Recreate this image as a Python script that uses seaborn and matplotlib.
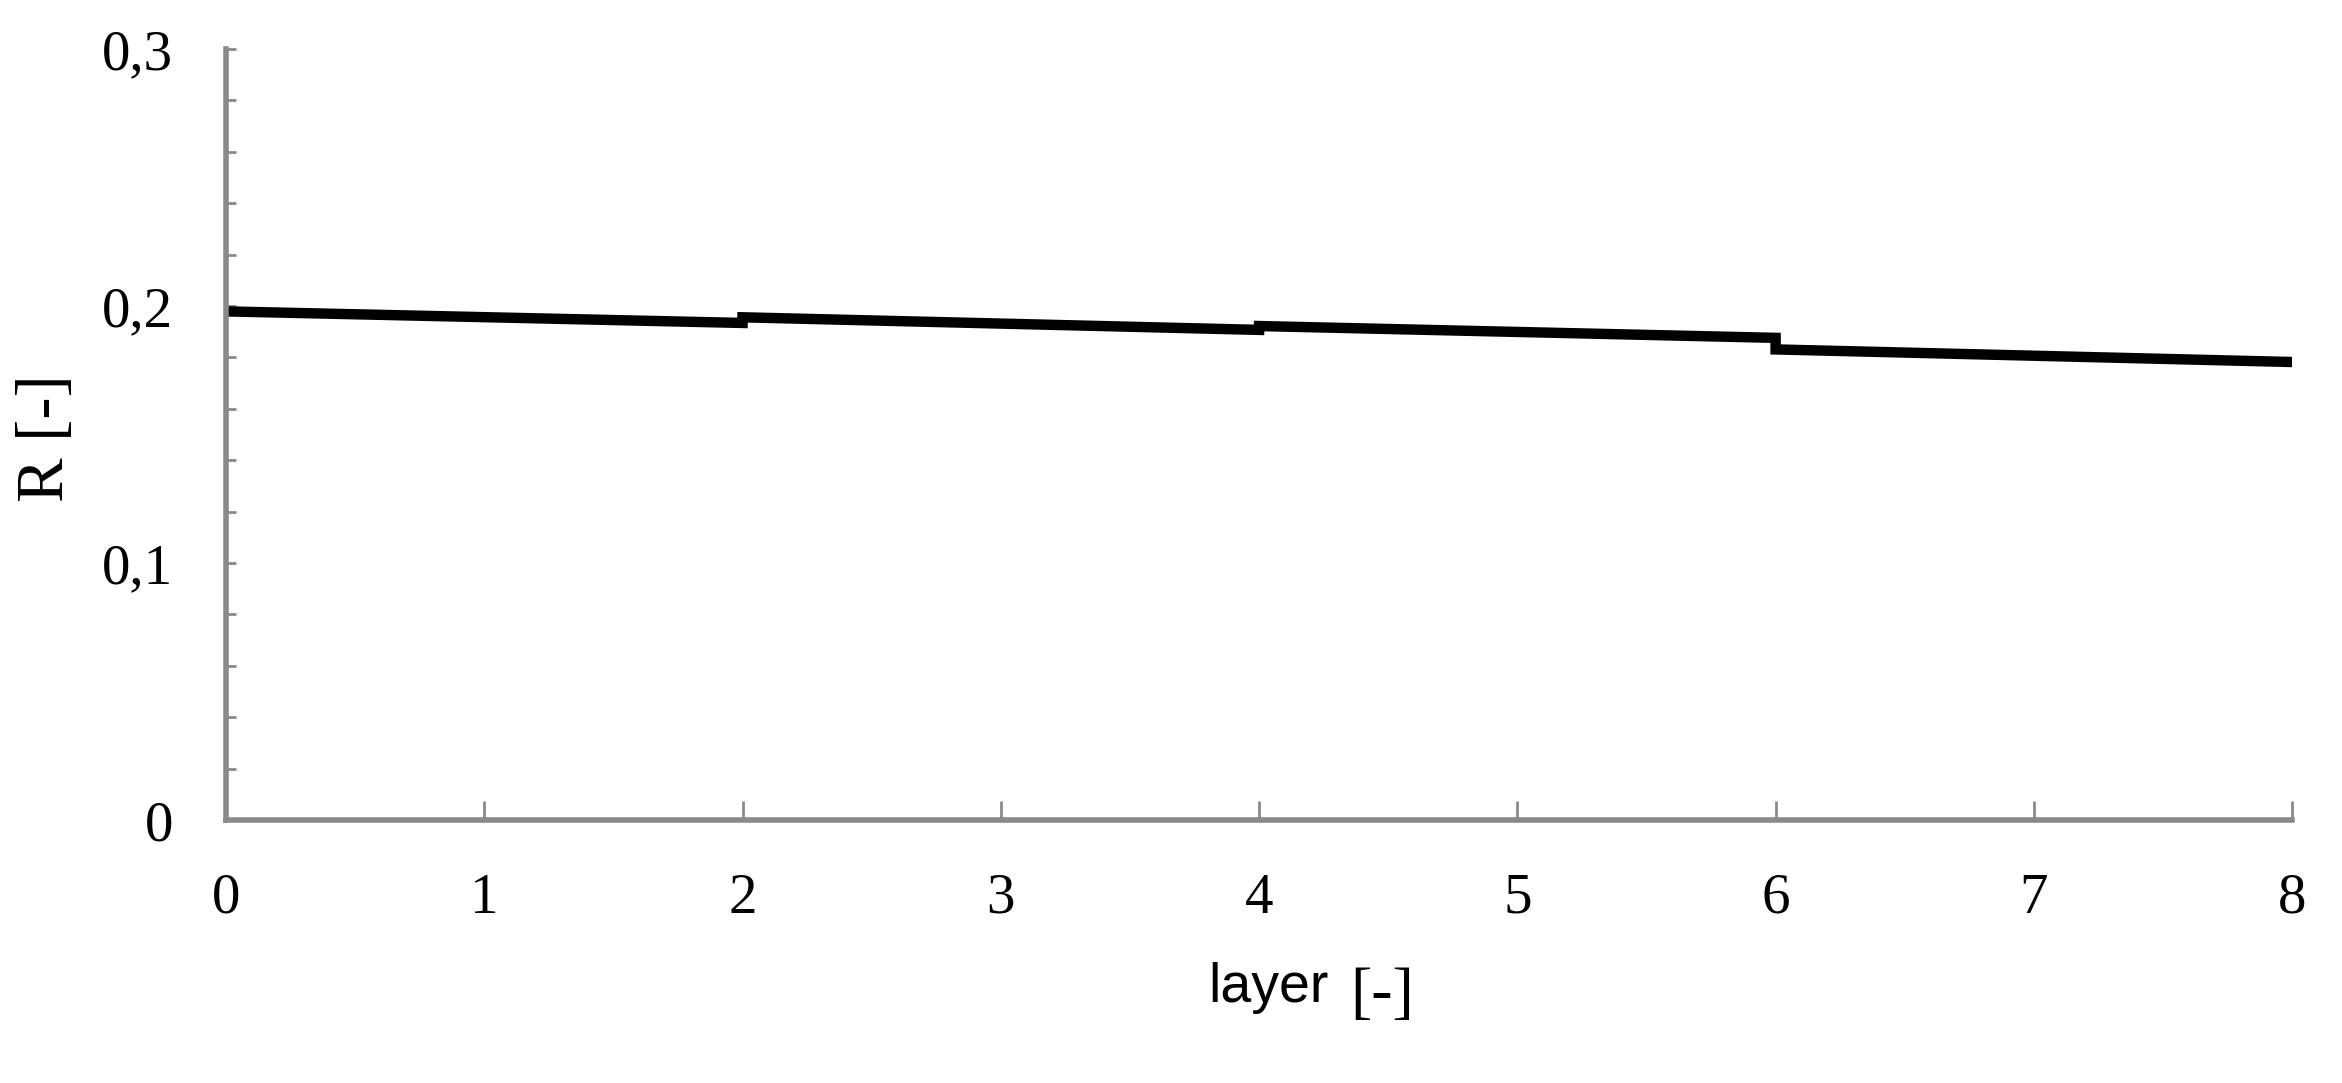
import numpy as np
import pandas as pd
import matplotlib
matplotlib.use("Agg")
import matplotlib.pyplot as plt
from matplotlib.ticker import FixedLocator, FixedFormatter, MultipleLocator
import seaborn as sns

# step profile of R over the layers (jumps at layer boundaries 2, 4, 6)
layer = [0, 2, 2, 4, 4, 6, 6, 8]
r_value = [0.1979, 0.1934, 0.1956, 0.1907, 0.1922, 0.1876, 0.1831, 0.1782]

y_ticks = [0.0, 0.1, 0.2, 0.3]
y_tick_labels = ["0", "0,1", "0,2", "0,3"]
x_ticks = [0, 1, 2, 3, 4, 5, 6, 7, 8]
x_tick_labels = ["0", "1", "2", "3", "4", "5", "6", "7", "8"]

df = pd.DataFrame({"layer": layer, "R": r_value})

sns.set_style("white")
plt.rcParams["font.family"] = ["Liberation Serif", "DejaVu Serif"]
plt.rcParams["text.color"] = "black"
plt.rcParams["xtick.labelcolor"] = "black"
plt.rcParams["ytick.labelcolor"] = "black"

fig = plt.figure(figsize=(23.42, 10.83), dpi=100)
ax = fig.add_axes([0.0965, 0.2428, 0.8822, 0.7120])

sns.lineplot(data=df, x="layer", y="R", estimator=None, sort=False,
             color="black", linewidth=7.5, ax=ax)
for ln in ax.lines:
    ln.set_solid_joinstyle("miter")
    ln.set_solid_capstyle("butt")

ax.set_xlim(0, 8)
ax.set_ylim(0, 0.3)

spine_col = "#8a8a8a"
for side in ["top", "right"]:
    ax.spines[side].set_visible(False)
for side in ["left", "bottom"]:
    ax.spines[side].set_color(spine_col)
    ax.spines[side].set_linewidth(4)

ax.xaxis.set_major_locator(FixedLocator(x_ticks))
ax.xaxis.set_major_formatter(FixedFormatter(x_tick_labels))
ax.yaxis.set_major_locator(FixedLocator(y_ticks))
ax.yaxis.set_major_formatter(FixedFormatter(y_tick_labels))
ax.yaxis.set_minor_locator(MultipleLocator(0.02))

ax.tick_params(axis="x", which="major", direction="in", length=14, width=2,
               color=spine_col, labelsize=41, pad=38, bottom=True,
               labelcolor="black")
ax.tick_params(axis="y", which="both", direction="in", length=7, width=2,
               color=spine_col, labelsize=41, pad=38, left=True,
               labelcolor="black")

ax.set_xlabel("")
ax.set_ylabel("")

fig.text(0.02, 0.5956, "R [-]", rotation=90, ha="center", va="center",
         fontsize=48, color="black")
fig.text(0.5158, 0.0748, "layer", ha="left", va="baseline", fontsize=40,
         family=["Liberation Sans", "DejaVu Sans"], color="black")
fig.text(0.5765, 0.0665, "[-]", ha="left", va="baseline", fontsize=46,
         color="black")

fig.savefig("out.png", dpi=100)
